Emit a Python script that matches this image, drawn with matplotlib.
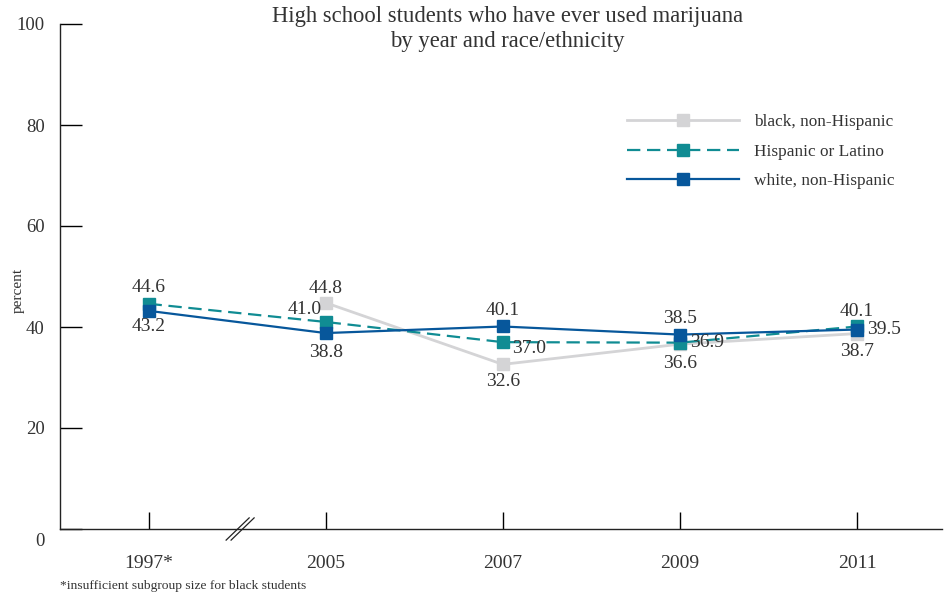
import numpy as np
import matplotlib
matplotlib.use('Agg')
import matplotlib.pyplot as plt
from matplotlib.transforms import ScaledTranslation

plt.rcParams['font.family'] = ['Liberation Serif', 'DejaVu Serif']

years = ['1997*', '2005', '2007', '2009', '2011']
black = [np.nan, 44.8, 32.6, 36.6, 38.7]
hispanic = [44.6, 41.0, 37.0, 36.9, 40.1]
white = [43.2, 38.8, 40.1, 38.5, 39.5]

# label offsets in pixels (dx, dy, ha)
black_off = [None, (0, 14, 'center'), (0, -17, 'center'), (0, -19, 'center'), (0, -18, 'center')]
hisp_off = [(0, 16, 'center'), (-21, 12, 'center'), (9, -6, 'left'), (10, 0, 'left'), (0, 15, 'center')]
white_off = [(0, -16, 'center'), (0, -19, 'center'), (0, 16, 'center'), (0, 16, 'center'), (10, 0, 'left')]

c_black = '#d4d4d6'
c_hisp = '#108c93'
c_white = '#07579b'
txt = '#333333'

fig = plt.figure(figsize=(9.52, 5.99), dpi=100)
ax = fig.add_axes([60 / 952, 70 / 599, 882 / 952, 505 / 599])

x = np.arange(len(years))
ax.plot(x, black, color=c_black, lw=2, marker='s', ms=8.5, label='black, non-Hispanic', zorder=3)
ax.plot(x, hispanic, color=c_hisp, lw=1.6, ls=(0, (6, 3)), marker='s', ms=8.5,
        label='Hispanic or Latino', zorder=4)
ax.plot(x, white, color=c_white, lw=1.6, marker='s', ms=8.5, label='white, non-Hispanic', zorder=5)

for vals, offs in [(black, black_off), (hispanic, hisp_off), (white, white_off)]:
    for i, (v, o) in enumerate(zip(vals, offs)):
        if o is None or np.isnan(v):
            continue
        ax.annotate(f'{v:.1f}', (i, v), xytext=(o[0], o[1]), textcoords='offset pixels',
                    ha=o[2], va='center', fontsize=14, color=txt, zorder=6)

ax.set_xlim(-0.5, 4.48)
ax.set_ylim(0, 100)
ax.set_xticks(x)
ax.set_xticklabels(years)
ax.set_yticks([0, 20, 40, 60, 80, 100])
ax.tick_params(axis='x', direction='in', length=12, width=1, pad=19, labelsize=14, labelcolor=txt)
ax.tick_params(axis='y', direction='in', length=16, width=1, pad=11, labelsize=13.5, labelcolor=txt)
lab0 = ax.get_yticklabels()[0]
lab0.set_transform(lab0.get_transform() + ScaledTranslation(0, -0.1, fig.dpi_scale_trans))

for s in ['top', 'right']:
    ax.spines[s].set_visible(False)
for s in ['left', 'bottom']:
    ax.spines[s].set_linewidth(1)
    ax.spines[s].set_color('#222222')

# axis break marks
for dx in (-0.014, 0.014):
    ax.plot([0.452 + dx, 0.582 + dx], [-2.2, 2.2], color='#222222', lw=0.9, clip_on=False)

fig.text(18 / 952, 1 - 290 / 599, 'percent', rotation=90, ha='center', va='center',
         fontsize=11, color=txt)

fig.text(0.533, 1 - 6 / 599, 'High school students who have ever used marijuana\nby year and race/ethnicity',
         ha='center', va='top', fontsize=16.3, color=txt, linespacing=1.25)
fig.text(60 / 952, 0.017, '*insufficient subgroup size for black students', fontsize=9.7, color=txt)

ax.legend(loc='upper left', bbox_to_anchor=(0.625, 0.853), frameon=False, fontsize=12.4,
          handlelength=6.5, handletextpad=0.9, labelspacing=0.8, labelcolor=txt)

plt.savefig('out.png', dpi=100)
